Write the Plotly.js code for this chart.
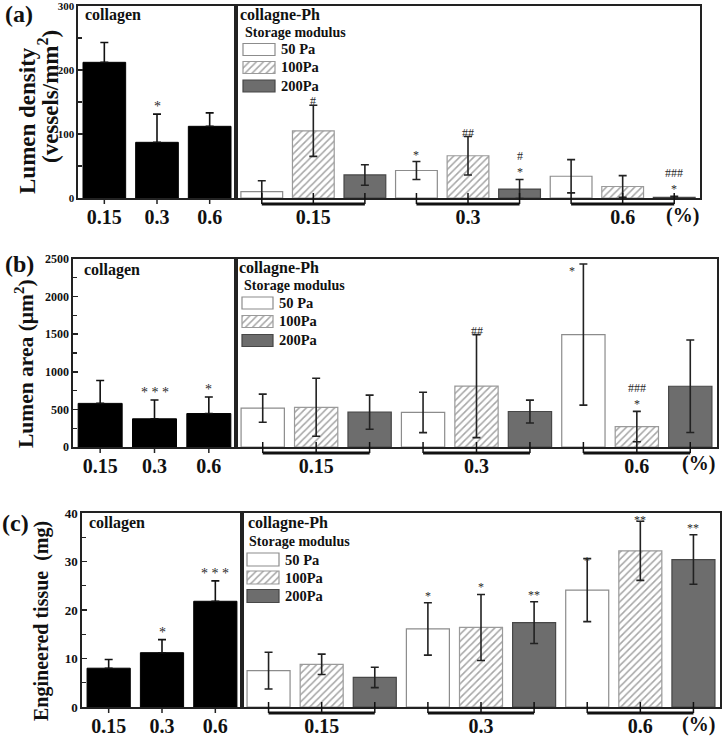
<!DOCTYPE html>
<html><head><meta charset="utf-8">
<script src="https://cdn.plot.ly/plotly-3.0.1.min.js"></script>
<style>html,body{margin:0;padding:0;background:#fff}#chart{width:722px;height:737px}</style>
</head><body><div id="chart"></div>
<script>
// ---------------- data ----------------
const concLabels = ["0.15", "0.3", "0.6"];
const modulusNames = ["50 Pa", "100Pa", "200Pa"];

// (a) Lumen density (vessels/mm2)
const densCollagen = [212, 87, 112];
const densCollagenErr = [31, 44, 21];
const dens50 = [10, 43, 34];
const dens50Err = [17, 14, 26];
const dens100 = [105, 66, 18];
const dens100Err = [40, 30, 17];
const dens200 = [36, 14, 1];
const dens200Err = [16, 15, 1.5];
const densSigCollagen = ["", "*", ""];
const densSig50 = ["", "*", ""];
const densSig100 = ["#", "##", ""];
const densSig200 = ["", "#<br>*", "###<br>*"];

// (b) Lumen area (um2)
const areaCollagen = [580, 375, 445];
const areaCollagenErr = [305, 250, 220];
const area50 = [516, 460, 1495];
const area50Err = [187, 269, 938];
const area100 = [528, 810, 272];
const area100Err = [386, 685, 202];
const area200 = [463, 472, 808];
const area200Err = [227, 152, 615];
const areaSigCollagen = ["", "***", "*"];
const areaSig50 = ["", "", "*"];
const areaSig100 = ["", "##", "###<br>*"];
const areaSig200 = ["", "", ""];

// (c) Engineered tissue (mg)
const tissueCollagen = [8.0, 11.2, 21.8];
const tissueCollagenErr = [1.8, 2.7, 4.2];
const tissue50 = [7.5, 16.1, 24.1];
const tissue50Err = [3.8, 5.4, 6.5];
const tissue100 = [8.8, 16.4, 32.2];
const tissue100Err = [2.1, 6.8, 6.1];
const tissue200 = [6.1, 17.4, 30.4];
const tissue200Err = [2.1, 4.3, 5.1];
const tissueSigCollagen = ["", "*", "***"];
const tissueSig50 = ["", "*", "*"];
const tissueSig100 = ["", "*", "**"];
const tissueSig200 = ["", "**", "**"];

// ---------------- layout / style ----------------
const W = 722, H = 737;
const FONT = "Liberation Serif, Times New Roman, serif";
const fx = px => px / W;
const fy = px => 1 - px / H;

const panels = [
  { label: "(a)", labelPos: [19, 14], left: [78, 236], right: [236, 700], top: 6, bottom: 198,
    ymax: 300, dtick: 100, minor: 50, tickSize: 11,
    collagen: densCollagen, collagenErr: densCollagenErr,
    series: [dens50, dens100, dens200], seriesErr: [dens50Err, dens100Err, dens200Err],
    sigCollagen: densSigCollagen, sig: [densSig50, densSig100, densSig200],
    collagenPos: [83, 15], phPos: [238, 15], storagePos: [243, 32],
    sw: { x0: 243, x1: 275, ys: [49.5, 67.5, 86], h: 12 }, swLabelX: 279,
    titles: [{ text: "Lumen density", x: 27, y: 121, size: 23 },
             { text: "(vessels/mm<sup>2</sup>)", x: 49, y: 97, size: 23 }],
    pct: [682, 215] },
  { label: "(b)", labelPos: [19, 264], left: [73, 236], right: [236, 717], top: 259, bottom: 447,
    ymax: 2500, dtick: 500, minor: 250, tickSize: 12,
    collagen: areaCollagen, collagenErr: areaCollagenErr,
    series: [area50, area100, area200], seriesErr: [area50Err, area100Err, area200Err],
    sigCollagen: areaSigCollagen, sig: [areaSig50, areaSig100, areaSig200],
    collagenPos: [82, 270], phPos: [237, 268], storagePos: [242, 285],
    sw: { x0: 242, x1: 273, ys: [303, 321.5, 340.5], h: 12 }, swLabelX: 277,
    titles: [{ text: "Lumen area (μm<sup>2</sup>)", x: 24, y: 364, size: 21.5 }],
    pct: [698, 463] },
  { label: "(c)", labelPos: [15, 523], left: [82, 242], right: [242, 720], top: 513, bottom: 707,
    ymax: 40, dtick: 10, minor: 5, tickSize: 13,
    collagen: tissueCollagen, collagenErr: tissueCollagenErr,
    series: [tissue50, tissue100, tissue200], seriesErr: [tissue50Err, tissue100Err, tissue200Err],
    sigCollagen: tissueSigCollagen, sig: [tissueSig50, tissueSig100, tissueSig200],
    collagenPos: [87, 523], phPos: [246, 523], storagePos: [247, 541],
    sw: { x0: 247, x1: 279, ys: [559.5, 577.5, 596], h: 13 }, swLabelX: 283,
    titles: [{ text: "Engineered tissue  (mg)", x: 41, y: 621, size: 20 }],
    pct: [698, 724] }
];

// special placement tweaks for crowded significance marks: key "panel-series-index"
const sigTweaks = { "1-0-2": { xshift: -11, yshift: -14 }, "2-0-2": { yshift: -9 }, "2-1-2": { yshift: -6 } };

const seriesStyles = [
  { color: "#ffffff", line: { color: "#8c8c8c", width: 1.2 } },
  { color: "#ffffff", line: { color: "#9a9a9a", width: 1.2 },
    pattern: { shape: "/", fgcolor: "#a6a6a6", bgcolor: "#ffffff", size: 5, solidity: 0.3 } },
  { color: "#6d6d6d", line: { color: "#474747", width: 1.2 } }
];

const LINE = "#222222";
const traces = [];
const layout = {
  width: W, height: H, margin: { l: 0, r: 0, t: 0, b: 0 },
  paper_bgcolor: "#ffffff", plot_bgcolor: "rgba(0,0,0,0)",
  showlegend: false, barmode: "overlay",
  font: { family: FONT, color: "#111" },
  annotations: [], shapes: []
};

const ax = n => (n === 1 ? "" : String(n));

panels.forEach((p, i) => {
  const nl = 2 * i + 1, nr = 2 * i + 2;
  const yDom = [fy(p.bottom), fy(p.top)];
  const hpx = p.bottom - p.top;

  // left (collagen) subplot
  layout["xaxis" + ax(nl)] = {
    domain: [fx(p.left[0]), fx(p.left[1])], anchor: "y" + ax(nl), range: [-0.5, 2.5],
    tickvals: [0, 1, 2], ticktext: concLabels, ticks: "", ticklabeloverflow: "allow",
    showline: true, linecolor: LINE, linewidth: 1.6, mirror: true, showgrid: false, zeroline: false,
    tickfont: { family: FONT, size: 20, weight: "bold", color: "#111" }, fixedrange: true
  };
  layout["yaxis" + ax(nl)] = {
    domain: yDom, anchor: "x" + ax(nl), range: [0, p.ymax], dtick: p.dtick, tick0: 0,
    ticks: "inside", ticklen: 5, tickwidth: 1.5, tickcolor: LINE, ticklabeloverflow: "allow",
    minor: { ticks: "inside", ticklen: 4, dtick: p.minor, tickwidth: 1.2, tickcolor: LINE, showgrid: false },
    showline: true, linecolor: LINE, linewidth: 1.6, mirror: true, showgrid: false, zeroline: false,
    tickfont: { family: FONT, size: p.tickSize, weight: "bold", color: "#111" }, fixedrange: true
  };
  // right (collagne-Ph) subplot
  layout["xaxis" + ax(nr)] = {
    domain: [fx(p.right[0]), fx(p.right[1])], anchor: "y" + ax(nr), range: [-0.5, 8.5],
    tickvals: [1, 4, 7], ticktext: concLabels, ticks: "", ticklabeloverflow: "allow",
    showline: true, linecolor: LINE, linewidth: 1.6, mirror: true, showgrid: false, zeroline: false,
    tickfont: { family: FONT, size: 20, weight: "bold", color: "#111" }, fixedrange: true
  };
  layout["yaxis" + ax(nr)] = {
    domain: yDom, anchor: "x" + ax(nr), range: [0, p.ymax], showticklabels: false, ticks: "",
    showline: true, linecolor: LINE, linewidth: 1.6, mirror: true, showgrid: false, zeroline: false, fixedrange: true
  };

  // collagen bars
  traces.push({
    type: "bar", x: [0, 1, 2], y: p.collagen, width: 0.81, xaxis: "x" + ax(nl), yaxis: "y" + ax(nl),
    marker: { color: "#000000", line: { color: "#000000", width: 1 } },
    error_y: { type: "data", symmetric: false, array: p.collagenErr, arrayminus: p.collagenErr.map(() => 0),
               color: "#111", thickness: 1.6, width: 4 },
    hoverinfo: "skip"
  });
  p.collagen.forEach((v, k) => {
    if (!p.sigCollagen[k]) return;
    layout.annotations.push({
      xref: "x" + ax(nl), yref: "y" + ax(nl), x: k, y: v + p.collagenErr[k], yanchor: "bottom",
      text: p.sigCollagen[k].split("").join(" "), showarrow: false, yshift: -2,
      font: { family: FONT, size: 14, color: "#2a2a2a" }
    });
  });

  // collagne-Ph bars
  p.series.forEach((vals, s) => {
    const xs = [s, 3 + s, 6 + s];
    traces.push({
      type: "bar", x: xs, y: vals, width: 0.81, xaxis: "x" + ax(nr), yaxis: "y" + ax(nr),
      name: modulusNames[s], marker: seriesStyles[s],
      error_y: { type: "data", array: p.seriesErr[s], color: "#222", thickness: 1.6, width: 4 },
      hoverinfo: "skip"
    });
    vals.forEach((v, k) => {
      const t = p.sig[s][k];
      if (!t) return;
      const tw = sigTweaks[i + "-" + s + "-" + k] || {};
      const base = t.charAt(0) === "#" && t.indexOf("<br>") < 0 ? -5 : -2;
      layout.annotations.push({
        xref: "x" + ax(nr), yref: "y" + ax(nr), x: xs[k], y: v + p.seriesErr[s][k], yanchor: "bottom",
        text: t, showarrow: false, xshift: tw.xshift || 0, yshift: (tw.yshift || 0) + base,
        font: { family: FONT, size: 12, color: "#2a2a2a" }
      });
    });
  });

  // tick marks under the collagen bars
  const off = 6 / hpx, up = 5 / hpx;
  for (let b = 0; b < 3; b++) {
    layout.shapes.push({ type: "line", xref: "x" + ax(nl), yref: "y" + ax(nl) + " domain",
      x0: b, x1: b, y0: 0, y1: -off, line: { color: LINE, width: 1.5 } });
  }
  // group brackets under the collagne-Ph axis
  for (let g = 0; g < 3; g++) {
    layout.shapes.push({ type: "line", xref: "x" + ax(nr), yref: "y" + ax(nr) + " domain",
      x0: 3 * g, x1: 3 * g + 2, y0: -off, y1: -off, line: { color: "#111", width: 3 } });
  }
  for (let b = 0; b < 9; b++) {
    layout.shapes.push({ type: "line", xref: "x" + ax(nr), yref: "y" + ax(nr) + " domain",
      x0: b, x1: b, y0: up, y1: -off, line: { color: "#111", width: 1.5 } });
  }

  // texts
  const A = (text, x, y, size, extra) => layout.annotations.push(Object.assign({
    xref: "paper", yref: "paper", x: fx(x), y: fy(y), text, showarrow: false,
    xanchor: "left", yanchor: "middle", font: { family: FONT, size, weight: "bold", color: "#111" }
  }, extra || {}));
  A(p.label, p.labelPos[0], p.labelPos[1], 24, { xanchor: "center" });
  A("collagen", p.collagenPos[0], p.collagenPos[1], 16);
  A("collagne-Ph", p.phPos[0], p.phPos[1], 16);
  A("Storage modulus", p.storagePos[0], p.storagePos[1], 14);
  modulusNames.forEach((m, s) => A(m, p.swLabelX, p.sw.ys[s], 14.5));
  p.titles.forEach(t => A(t.text, t.x, t.y, t.size, { xanchor: "center", textangle: -90 }));
  A("(%)", p.pct[0], p.pct[1], 20, { xanchor: "center" });

  // legend swatches (drawn as bars on a pixel overlay axis)
  p.sw.ys.forEach((cy, s) => {
    traces.push({
      type: "bar", orientation: "h", xaxis: "x7", yaxis: "y7",
      y: [cy], x: [p.sw.x1 - p.sw.x0], base: [p.sw.x0], width: [p.sw.h],
      marker: seriesStyles[s], hoverinfo: "skip"
    });
  });
});

layout.xaxis7 = { domain: [0, 1], range: [0, W], visible: false, anchor: "y7", fixedrange: true };
layout.yaxis7 = { domain: [0, 1], range: [H, 0], visible: false, anchor: "x7", fixedrange: true };

Plotly.newPlot("chart", traces, layout, { staticPlot: true, displayModeBar: false });
</script>
</body></html>
